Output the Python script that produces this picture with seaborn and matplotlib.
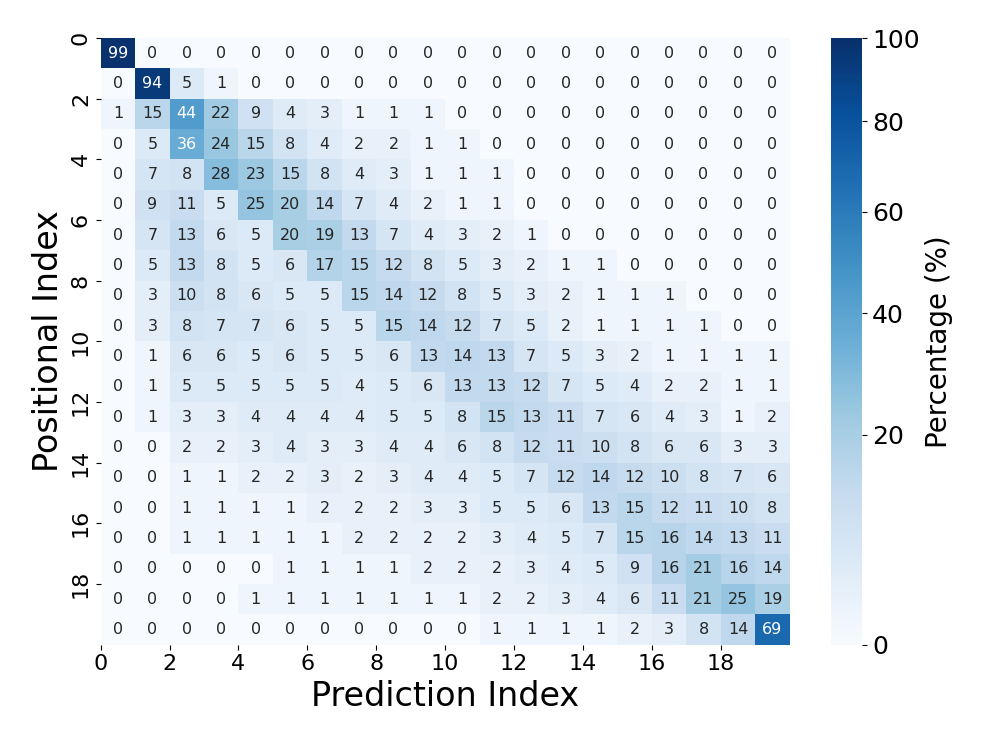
import numpy as np
import seaborn as sns
import matplotlib
matplotlib.use("Agg")
import matplotlib.pyplot as plt
from matplotlib.colors import PowerNorm

# confusion matrix (%), rows = positional index, cols = prediction index
row_00 = [99, 0, 0, 0, 0, 0, 0, 0, 0, 0, 0, 0, 0, 0, 0, 0, 0, 0, 0, 0]
row_01 = [0, 94, 5, 1, 0, 0, 0, 0, 0, 0, 0, 0, 0, 0, 0, 0, 0, 0, 0, 0]
row_02 = [1, 15, 44, 22, 9, 4, 3, 1, 1, 1, 0, 0, 0, 0, 0, 0, 0, 0, 0, 0]
row_03 = [0, 5, 36, 24, 15, 8, 4, 2, 2, 1, 1, 0, 0, 0, 0, 0, 0, 0, 0, 0]
row_04 = [0, 7, 8, 28, 23, 15, 8, 4, 3, 1, 1, 1, 0, 0, 0, 0, 0, 0, 0, 0]
row_05 = [0, 9, 11, 5, 25, 20, 14, 7, 4, 2, 1, 1, 0, 0, 0, 0, 0, 0, 0, 0]
row_06 = [0, 7, 13, 6, 5, 20, 19, 13, 7, 4, 3, 2, 1, 0, 0, 0, 0, 0, 0, 0]
row_07 = [0, 5, 13, 8, 5, 6, 17, 15, 12, 8, 5, 3, 2, 1, 1, 0, 0, 0, 0, 0]
row_08 = [0, 3, 10, 8, 6, 5, 5, 15, 14, 12, 8, 5, 3, 2, 1, 1, 1, 0, 0, 0]
row_09 = [0, 3, 8, 7, 7, 6, 5, 5, 15, 14, 12, 7, 5, 2, 1, 1, 1, 1, 0, 0]
row_10 = [0, 1, 6, 6, 5, 6, 5, 5, 6, 13, 14, 13, 7, 5, 3, 2, 1, 1, 1, 1]
row_11 = [0, 1, 5, 5, 5, 5, 5, 4, 5, 6, 13, 13, 12, 7, 5, 4, 2, 2, 1, 1]
row_12 = [0, 1, 3, 3, 4, 4, 4, 4, 5, 5, 8, 15, 13, 11, 7, 6, 4, 3, 1, 2]
row_13 = [0, 0, 2, 2, 3, 4, 3, 3, 4, 4, 6, 8, 12, 11, 10, 8, 6, 6, 3, 3]
row_14 = [0, 0, 1, 1, 2, 2, 3, 2, 3, 4, 4, 5, 7, 12, 14, 12, 10, 8, 7, 6]
row_15 = [0, 0, 1, 1, 1, 1, 2, 2, 2, 3, 3, 5, 5, 6, 13, 15, 12, 11, 10, 8]
row_16 = [0, 0, 1, 1, 1, 1, 1, 2, 2, 2, 2, 3, 4, 5, 7, 15, 16, 14, 13, 11]
row_17 = [0, 0, 0, 0, 0, 1, 1, 1, 1, 2, 2, 2, 3, 4, 5, 9, 16, 21, 16, 14]
row_18 = [0, 0, 0, 0, 1, 1, 1, 1, 1, 1, 1, 2, 2, 3, 4, 6, 11, 21, 25, 19]
row_19 = [0, 0, 0, 0, 0, 0, 0, 0, 0, 0, 0, 1, 1, 1, 1, 2, 3, 8, 14, 69]

tick_pos = list(range(0, 20, 2))
cbar_ticks = [0, 20, 40, 60, 80, 100]

cm = np.array([row_00, row_01, row_02, row_03, row_04, row_05, row_06, row_07,
               row_08, row_09, row_10, row_11, row_12, row_13, row_14, row_15,
               row_16, row_17, row_18, row_19])

fig = plt.figure(figsize=(9.97, 7.47), dpi=100)
ax = fig.add_axes([0.101, 0.137, 0.691, 0.812])
cax = fig.add_axes([0.833, 0.137, 0.032, 0.812])

sns.heatmap(cm, ax=ax, cbar_ax=cax, cmap="Blues",
            norm=PowerNorm(gamma=0.66, vmin=0, vmax=100),
            annot=True, fmt="d", annot_kws={"size": 11.5},
            cbar_kws={"ticks": cbar_ticks})

ax.set_xticks(tick_pos)
ax.set_xticklabels(tick_pos, fontsize=16, rotation=0)
ax.set_yticks(tick_pos)
ax.set_yticklabels(tick_pos, fontsize=16, rotation=90, va="center")
ax.set_xlabel("Prediction Index", fontsize=24)
ax.set_ylabel("Positional Index", fontsize=24)

cax.tick_params(labelsize=18)
cax.set_ylabel("Percentage (%)", fontsize=20)

fig.savefig("out.png", dpi=100)
